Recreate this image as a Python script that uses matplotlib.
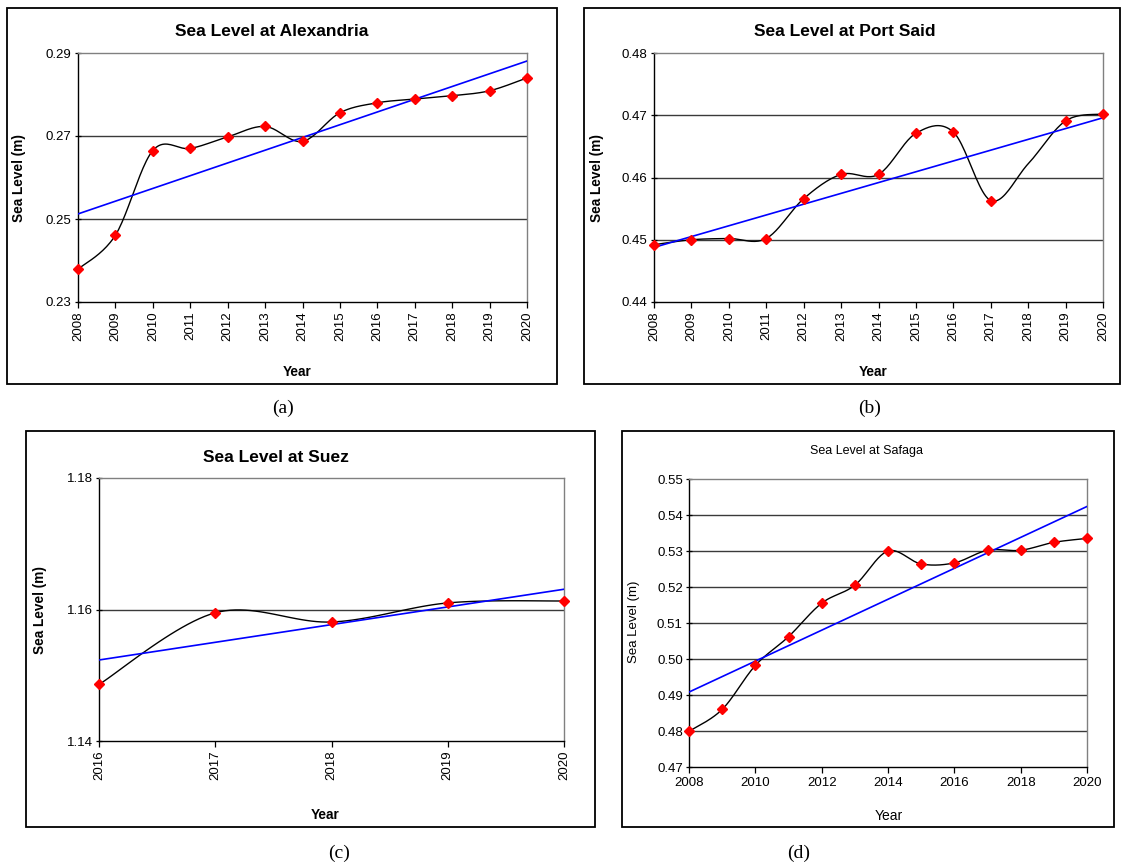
import numpy as np
import matplotlib
matplotlib.use('Agg')
import matplotlib.pyplot as plt
from matplotlib.patches import Rectangle

plt.rcParams['font.family'] = ['Liberation Sans', 'DejaVu Sans']

# data
years_alex = list(range(2008, 2021))
level_alex = [0.2379, 0.2461, 0.2665, 0.2670, 0.2698, 0.2723, 0.2687,
              0.2756, 0.2780, 0.2789, 0.2797, 0.2809, 0.2840]

years_port = list(range(2008, 2021))
level_port = [0.4492, 0.4500, 0.4502, 0.4502, 0.4566, 0.4605, 0.4605,
              0.4671, 0.4673, 0.4563, 0.4622, 0.4691, 0.4702]
port_hidden = [2018]   # no marker drawn there

years_suez = [2016, 2017, 2018, 2019, 2020]
level_suez = [1.1486, 1.1595, 1.1581, 1.1610, 1.1613]

years_safaga = list(range(2008, 2021))
level_safaga = [0.4799, 0.4860, 0.4982, 0.5062, 0.5155, 0.5205, 0.5300,
                0.5264, 0.5267, 0.5302, 0.5302, 0.5324, 0.5335]

W, H = 1127, 868
fig = plt.figure(figsize=(W / 100, H / 100), dpi=100)


def fx(px):
    return px / W


def fy(py):
    return 1 - py / H


def box(x0, y0, x1, y1):
    fig.add_artist(Rectangle((fx(x0), fy(y1)), fx(x1) - fx(x0), fy(y0) - fy(y1),
                             transform=fig.transFigure, fill=False,
                             edgecolor='black', lw=1.3))


def make_ax(l, r, t, b):
    return fig.add_axes([fx(l), fy(b), fx(r) - fx(l), fy(t) - fy(b)])


def smooth(x, y, n=24):
    # catmull-rom / bezier smoothing like excel's smoothed line
    x = np.asarray(x, float)
    y = np.asarray(y, float)
    m = len(x)
    xs, ys = [], []
    for i in range(m - 1):
        i0 = max(i - 1, 0)
        i3 = min(i + 2, m - 1)
        p0 = np.array([x[i0], y[i0]])
        p1 = np.array([x[i], y[i]])
        p2 = np.array([x[i + 1], y[i + 1]])
        p3 = np.array([x[i3], y[i3]])
        c1 = p1 + (p2 - p0) / 6
        c2 = p2 - (p3 - p1) / 6
        t = np.linspace(0, 1, n)[:, None]
        seg = ((1 - t) ** 3) * p1 + 3 * ((1 - t) ** 2) * t * c1 + 3 * (1 - t) * t ** 2 * c2 + t ** 3 * p2
        xs.extend(seg[:, 0])
        ys.extend(seg[:, 1])
    return xs, ys


def draw(ax, years, level, yticks, yfmt, hidden=(), rot=90,
         xticks=None, ticksize=9.5):
    ax.set_xlim(years[0], years[-1])
    ax.set_ylim(yticks[0], yticks[-1])
    for v in yticks[1:-1]:
        ax.axhline(v, color='#3a3a3a', lw=1.0, zorder=1)
    # trend line (least squares)
    k, c = np.polyfit(years, level, 1)
    ax.plot([years[0], years[-1]], [k * years[0] + c, k * years[-1] + c],
            color='#0000FF', lw=1.2, zorder=3)
    sx, sy = smooth(years, level)
    ax.plot(sx, sy, color='black', lw=1.0, zorder=2)
    mx = [a for a in years if a not in hidden]
    my = [b for a, b in zip(years, level) if a not in hidden]
    ax.plot(mx, my, 'D', color='#FF0000', ms=5.5, mec='#FF0000', zorder=4,
            clip_on=False)
    ax.set_yticks(yticks)
    ax.set_yticklabels([yfmt.format(v) for v in yticks], fontsize=ticksize)
    if xticks is None:
        xticks = years
    ax.set_xticks(xticks)
    ax.set_xticklabels([str(v) for v in xticks], rotation=rot, fontsize=ticksize)
    ax.tick_params(axis='y', direction='inout', length=5, width=0.9, pad=2)
    ax.tick_params(axis='x', direction='out', length=4, width=0.9, pad=3)
    ax.spines['left'].set_color('black')
    ax.spines['bottom'].set_color('black')
    ax.spines['top'].set_color('#808080')
    ax.spines['right'].set_color('#808080')
    for s in ax.spines.values():
        s.set_linewidth(1.0)
    return ax


# (a) Alexandria
box(7, 8, 557, 384)
ax = make_ax(78, 527, 53, 302)
draw(ax, years_alex, level_alex, [0.23, 0.25, 0.27, 0.29], '{:.2f}')
fig.text(fx(272), fy(32), 'Sea Level at Alexandria', ha='center', va='center',
         fontsize=12.5, fontweight='bold')
fig.text(fx(19), fy(178), 'Sea Level (m)', rotation=90, ha='center', va='center',
         fontsize=9.8, fontweight='bold')
fig.text(fx(297), fy(372), 'Year', ha='center', va='center', fontsize=9.8,
         fontweight='bold')
fig.text(fx(283), fy(408), '(a)', ha='center', va='center', fontsize=14,
         family='Liberation Serif')

# (b) Port Said
box(584, 8, 1120, 384)
ax = make_ax(654, 1103, 53, 302)
draw(ax, years_port, level_port, [0.44, 0.45, 0.46, 0.47, 0.48], '{:.2f}',
     hidden=port_hidden)
fig.text(fx(845), fy(32), 'Sea Level at Port Said', ha='center', va='center',
         fontsize=12.5, fontweight='bold')
fig.text(fx(597), fy(178), 'Sea Level (m)', rotation=90, ha='center', va='center',
         fontsize=9.8, fontweight='bold')
fig.text(fx(873), fy(372), 'Year', ha='center', va='center', fontsize=9.8,
         fontweight='bold')
fig.text(fx(870), fy(408), '(b)', ha='center', va='center', fontsize=14,
         family='Liberation Serif')

# (c) Suez
box(26, 431, 595, 827)
ax = make_ax(99, 564, 478, 741)
draw(ax, years_suez, level_suez, [1.14, 1.16, 1.18], '{:.2f}')
fig.text(fx(276), fy(458), 'Sea Level at Suez', ha='center', va='center',
         fontsize=12.5, fontweight='bold')
fig.text(fx(40), fy(610), 'Sea Level (m)', rotation=90, ha='center', va='center',
         fontsize=9.8, fontweight='bold')
fig.text(fx(325), fy(815), 'Year', ha='center', va='center', fontsize=9.8,
         fontweight='bold')
fig.text(fx(339), fy(853), '(c)', ha='center', va='center', fontsize=14,
         family='Liberation Serif')

# (d) Safaga
box(622, 431, 1114, 827)
ax = make_ax(689, 1087, 479, 767)
draw(ax, years_safaga, level_safaga,
     [0.47, 0.48, 0.49, 0.50, 0.51, 0.52, 0.53, 0.54, 0.55], '{:.2f}',
     rot=0, xticks=list(range(2008, 2021, 2)))
fig.text(fx(866), fy(451), 'Sea Level at Safaga', ha='center', va='center',
         fontsize=9)
fig.text(fx(634), fy(622), 'Sea Level (m)', rotation=90, ha='center', va='center',
         fontsize=9.5)
fig.text(fx(889), fy(816), 'Year', ha='center', va='center', fontsize=10)
fig.text(fx(799), fy(853), '(d)', ha='center', va='center', fontsize=14,
         family='Liberation Serif')

fig.savefig('out.png', dpi=100)
